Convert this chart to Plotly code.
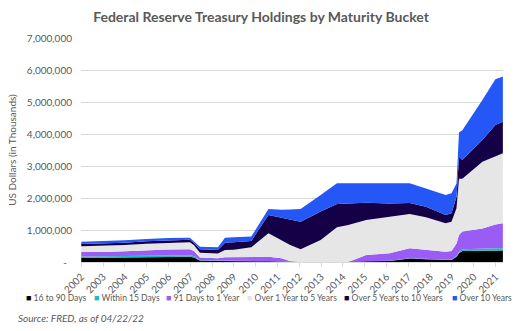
import plotly.graph_objects as go

# Weekly dates (sampled) and holdings by maturity bucket (US$ thousands as labelled)
dates = [
    "2002-12-18", "2003-12-17", "2004-12-15", "2005-12-14", "2006-12-13",
    "2007-12-12", "2008-02-20", "2008-05-28", "2009-03-25", "2009-07-22",
    "2009-12-16", "2010-10-06", "2011-07-20", "2012-02-22", "2012-07-18",
    "2013-01-09", "2013-12-11", "2014-09-10", "2015-03-18", "2016-01-13",
    "2017-02-08", "2018-01-10", "2018-10-10", "2019-09-04", "2019-12-11",
    "2020-03-04", "2020-04-15", "2020-06-10", "2021-05-12", "2021-12-15",
    "2022-04-20",
]
d16_90 = [125000, 130000, 140000, 150000, 160000, 165000, 140000, 50000, 35000, 30000,
          30000, 30000, 20000, 15000, 5000, 0, 0, 0, 0, 20000,
          35000, 110000, 85000, 55000, 60000, 165000, 270000, 340000, 340000, 360000,
          360000]
within15 = [50000, 45000, 45000, 45000, 45000, 45000, 40000, 12000, 10000, 10000,
            10000, 10000, 10000, 15000, 5000, 0, 0, 0, 0, 5000,
            5000, 10000, 10000, 10000, 10000, 20000, 50000, 60000, 90000, 70000,
            70000]
d91_1y = [135000, 135000, 150000, 175000, 185000, 185000, 160000, 75000, 70000, 105000,
          105000, 105000, 135000, 90000, 20000, 0, 0, 0, 0, 195000,
          230000, 310000, 280000, 255000, 270000, 395000, 520000, 550000, 620000, 740000,
          780000]
y1_5 = [180000, 190000, 195000, 200000, 215000, 225000, 185000, 155000, 150000, 230000,
        240000, 315000, 730000, 560000, 500000, 400000, 690000, 1085000, 1160000, 1090000,
        1150000, 1070000, 1025000, 890000, 920000, 1100000, 1760000, 1650000, 2080000, 2140000,
        2190000]
y5_10 = [70000, 75000, 75000, 75000, 75000, 75000, 70000, 105000, 110000, 230000,
         230000, 200000, 570000, 710000, 800000, 860000, 890000, 730000, 670000, 540000,
         410000, 340000, 330000, 260000, 260000, 360000, 690000, 590000, 680000, 970000,
         980000]
over10 = [70000, 75000, 75000, 70000, 70000, 65000, 55000, 80000, 85000, 155000,
          160000, 135000, 190000, 240000, 310000, 400000, 510000, 645000, 630000, 610000,
          630000, 620000, 570000, 620000, 630000, 410000, 760000, 930000, 1250000, 1430000,
          1420000]

series = [
    ("16 to 90 Days", d16_90, "#000000"),
    ("Within 15 Days", within15, "#19BDBD"),
    ("91 Days to 1 Year", d91_1y, "#9B5CF6"),
    ("Over 1 Year to 5 Years", y1_5, "#E6E6E6"),
    ("Over 5 Years to 10 Years", y5_10, "#150047"),
    ("Over 10 Years", over10, "#2457F5"),
]

year_ticks = [str(y) for y in range(2002, 2022)]
year_tick_dates = ["%d-12-18" % y for y in range(2002, 2022)]
y_ticks = [0, 1000000, 2000000, 3000000, 4000000, 5000000, 6000000, 7000000]
y_ticktext = ["-\u00a0\u00a0"] + ["{:,}".format(v) for v in y_ticks[1:]]

FONT = "Lato"
GREY = "#595959"

fig = go.Figure()
for name, vals, col in series:
    fig.add_trace(go.Scatter(
        x=dates, y=vals, name=name, mode="lines", stackgroup="one",
        line=dict(width=0, color=col), fillcolor=col, showlegend=False,
        hoverinfo="x+y+name",
    ))

L, R, T, B = 75, 19, 38, 69
W, H = 522, 331
pw, ph = W - L - R, H - T - B

def px(x):
    return (x - L) / pw

def py(y):
    return (H - B - y) / ph

annotations = []
legend_x = [17, 86, 159, 241, 340, 449]
for (name, _, col), lx in zip(series, legend_x):
    annotations.append(dict(
        xref="paper", yref="paper", x=px(lx), y=py(297), xanchor="left", yanchor="middle",
        showarrow=False, align="left",
        text="<span style='color:%s;font-size:9px'>■</span> %s" % (col, name),
        font=dict(family=FONT, size=8.5, color=GREY),
    ))
annotations.append(dict(
    xref="paper", yref="paper", x=px(9), y=py(318), xanchor="left", yanchor="middle",
    showarrow=False, text="<i>Source: FRED, as of 04/22/22</i>",
    font=dict(family=FONT, size=10, color=GREY),
))

fig.update_layout(
    width=W, height=H,
    margin=dict(l=L, r=R, t=T, b=B, pad=0),
    paper_bgcolor="white", plot_bgcolor="white",
    title=dict(text="<b>Federal Reserve Treasury Holdings by Maturity Bucket</b>",
               x=0.5, xref="container", xanchor="center",
               y=1 - 17 / H, yref="container", yanchor="middle",
               font=dict(family=FONT, size=14, color=GREY)),
    font=dict(family=FONT, color=GREY),
    annotations=annotations,
    showlegend=False,
)
fig.update_xaxes(
    type="date", range=["2002-12-14", "2022-04-22"],
    tickvals=year_tick_dates, ticktext=year_ticks, tickangle=-45,
    tickfont=dict(family=FONT, size=10, color=GREY),
    showgrid=False, showline=True, linecolor="#D9D9D9", linewidth=1,
    ticks="outside", ticklen=4, tickcolor="#D9D9D9", zeroline=False,
)
fig.update_yaxes(
    range=[0, 7000000], tickvals=y_ticks, ticktext=y_ticktext,
    tickfont=dict(family=FONT, size=10, color=GREY),
    showgrid=True, gridcolor="#D9D9D9", gridwidth=1, zeroline=False,
    showline=False, ticks="", ticklabelstandoff=8,
    title=dict(text="US Dollars (in Thousands)", font=dict(family=FONT, size=10, color=GREY),
               standoff=8),
)

fig.write_html("out.html")
